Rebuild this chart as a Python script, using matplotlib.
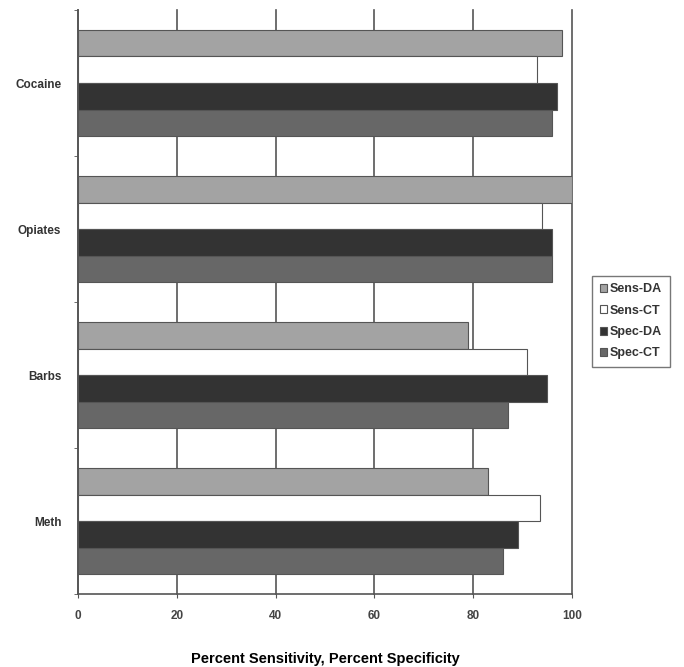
import numpy as np
import matplotlib.pyplot as plt

drugs = ["Cocaine", "Opiates", "Barbs", "Meth"]
series = ["Sens-DA", "Sens-CT", "Spec-DA", "Spec-CT"]
sens_da = [98, 100, 79, 83]
sens_ct = [93, 94, 91, 93.5]
spec_da = [97, 96, 95, 89]
spec_ct = [96, 96, 87, 86]
colors = ["#a3a3a3", "#ffffff", "#333333", "#676767"]

plt.rcParams['font.family'] = ['Liberation Sans', 'DejaVu Sans']

fig = plt.figure(figsize=(6.84, 6.67), dpi=100)
ax = fig.add_axes([0.114, 0.109, 0.722, 0.876])

n = len(drugs)
centers = np.arange(n)[::-1]  # Cocaine at top
h = 0.182
vals = [sens_da, sens_ct, spec_da, spec_ct]
for i, (name, v, c) in enumerate(zip(series, vals, colors)):
    offs = (1.5 - i) * h
    ax.barh(centers + offs, v, height=h, color=c, edgecolor="#555555",
            linewidth=0.8, label=name, zorder=3)

ax.set_xlim(0, 100)
ax.set_ylim(-0.5, n - 0.5)
ax.set_xticks([0, 20, 40, 60, 80, 100])
ax.set_xticklabels(["0", "20", "40", "60", "80", "100"], fontsize=8.5,
                   fontweight="bold", color="#444444")
ax.set_yticks(centers)
ax.set_yticklabels(drugs, fontsize=8.5, fontweight="bold", color="#333333")
ax.tick_params(axis="y", length=0, pad=12)
ax.set_yticks(np.arange(n + 1) - 0.5, minor=True)
ax.tick_params(axis="y", which="minor", length=3, color="#555555")
ax.tick_params(axis="x", length=3, color="#555555", pad=8)
ax.xaxis.grid(True, color="#555555", linewidth=1.2, zorder=0)
for gl in ax.get_xgridlines():
    gl.set_clip_on(False)
ax.set_axisbelow(True)
for s in ["top", "right"]:
    ax.spines[s].set_visible(False)
for s in ["left", "bottom"]:
    ax.spines[s].set_color("#555555")
    ax.spines[s].set_linewidth(1.2)

ax.set_xlabel("Percent Sensitivity, Percent Specificity", fontsize=10.5,
              fontweight="bold", labelpad=22)

leg = fig.legend(loc="upper left", bbox_to_anchor=(0.857, 0.596), fontsize=9,
                 frameon=True, fancybox=False, edgecolor="#555555",
                 handlelength=0.6, handleheight=0.6, handletextpad=0.2,
                 borderpad=0.6, labelspacing=0.75)
leg.get_frame().set_linewidth(1.0)
for t in leg.get_texts():
    t.set_fontweight("bold")
    t.set_color("#333333")

fig.savefig("out.png", dpi=100)
